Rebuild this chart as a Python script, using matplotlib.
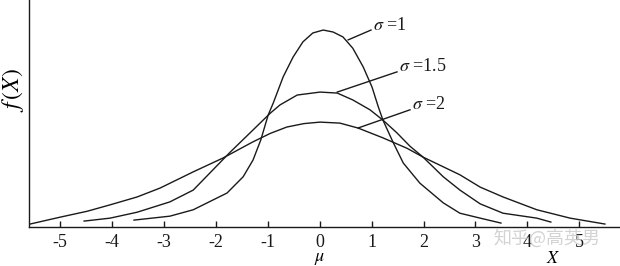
import matplotlib
matplotlib.use("Agg")
import matplotlib.pyplot as plt

plt.rcParams["font.family"] = ["Liberation Serif", "DejaVu Serif"]
plt.rcParams["mathtext.fontset"] = "stix"

# values
x_s1 = [-3.57, -2.88, -2.43, -1.78, -1.47, -1.28, -1.13, -0.99, -0.89, -0.70,
        -0.51, -0.32, -0.13, 0.07, 0.26, 0.45, 0.64, 0.84, 1.01, 1.13, 1.22,
        1.41, 1.61, 1.93, 2.38, 2.70, 3.09, 3.49]
f_s1 = [0.014, 0.022, 0.035, 0.069, 0.102, 0.136, 0.177, 0.227, 0.252, 0.305,
        0.345, 0.376, 0.394, 0.400, 0.396, 0.386, 0.363, 0.325, 0.284, 0.244,
        0.217, 0.173, 0.130, 0.089, 0.049, 0.028, 0.018, 0.008]

x_s15 = [-4.53, -4.03, -3.51, -2.88, -2.43, -1.72, -1.30, -0.95, -0.76, -0.43,
         0.01, 0.34, 0.64, 0.97, 1.22, 1.49, 1.74, 1.99, 2.38, 2.70, 3.09,
         3.53, 4.18, 4.45]
f_s15 = [0.012, 0.018, 0.030, 0.051, 0.075, 0.152, 0.195, 0.231, 0.248, 0.268,
         0.274, 0.272, 0.258, 0.238, 0.217, 0.191, 0.164, 0.142, 0.102, 0.075,
         0.047, 0.028, 0.018, 0.010]

x_s2 = [-5.57, -4.99, -4.47, -4.03, -3.51, -3.07, -2.43, -1.86, -1.28, -0.95,
        -0.63, -0.30, 0.01, 0.39, 0.74, 1.22, 1.68, 1.99, 2.70, 3.09, 3.53,
        4.18, 4.82, 5.49]
f_s2 = [0.006, 0.020, 0.032, 0.045, 0.061, 0.079, 0.112, 0.140, 0.173, 0.190,
        0.203, 0.210, 0.213, 0.211, 0.201, 0.181, 0.160, 0.142, 0.106, 0.081,
        0.061, 0.035, 0.018, 0.006]

tick_vals = [-5, -4, -3, -2, -1, 0, 1, 2, 3, 4, 5]
tick_labels = ["-5", "-4", "-3", "-2", "-1", "0", "1", "2", "3", "4", "5"]

sigma_labels = ["$\\sigma$ =1", "$\\sigma$ =1.5", "$\\sigma$ =2"]
leader_start = [(0.55, 0.380), (0.34, 0.274), (0.74, 0.201)]
leader_end = [(0.99, 0.400), (1.49, 0.315), (1.74, 0.238)]

W, H = 620, 266
fig = plt.figure(figsize=(W / 100, H / 100), dpi=100)
ax = fig.add_axes([29 / W, 1 - 227 / H, 591 / W, 227 / H])

line_kw = dict(color="#1a1a1a", lw=1.0)
ax.plot(x_s1, f_s1, **line_kw)
ax.plot(x_s15, f_s15, **line_kw)
ax.plot(x_s2, f_s2, **line_kw)

# labels with leader lines
for lab, (x0, y0), (x1, y1) in zip(sigma_labels, leader_start, leader_end):
    ax.plot([x0, x1], [y0, y1], **line_kw)
    ax.text(x1 + 0.03, y1 + 0.01, lab, fontsize=13, ha="left", va="center",
            color="#1a1a1a")

ax.set_xlim(-5.59, 5.78)
ax.set_ylim(0, 0.461)

for side in ["top", "right"]:
    ax.spines[side].set_visible(False)
for side in ["left", "bottom"]:
    ax.spines[side].set_linewidth(1.0)
    ax.spines[side].set_color("#1a1a1a")

ax.set_yticks([])
ax.set_xticks(tick_vals)
ax.set_xticklabels(tick_labels)
ax.tick_params(axis="x", direction="in", length=4, width=1, pad=5,
               labelsize=13, colors="#1a1a1a")

ax.text(0, -0.14, "$\\mu$", transform=ax.get_xaxis_transform(),
        ha="center", va="center", fontsize=13)
ax.text(4.49, -0.14, "$X$", transform=ax.get_xaxis_transform(),
        ha="center", va="center", fontsize=13)
fig.text(13 / W, 1 - 90 / H, "$f\\,(X)$", rotation=90, ha="center",
         va="center", fontsize=17)

# watermark
fig.text(547 / W, 1 - 238 / H, "知乎@高英男", ha="center", va="center",
         fontsize=13, color="#c8c8c8", alpha=0.8,
         family=["Noto Sans CJK SC", "DejaVu Sans"])

fig.savefig("out.png", dpi=100)
